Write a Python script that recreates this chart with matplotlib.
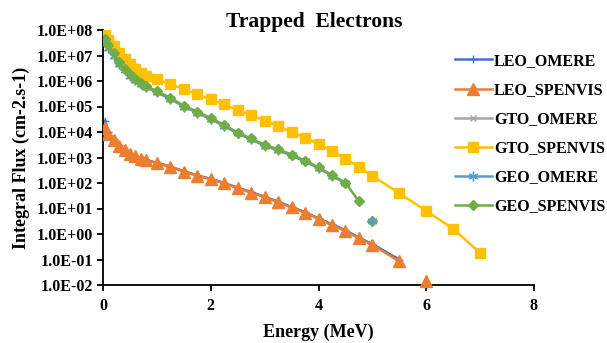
import numpy as np
import matplotlib
matplotlib.use("Agg")
import matplotlib.pyplot as plt
from matplotlib.ticker import FuncFormatter, FixedLocator

# energies (MeV)
energy = [0.04, 0.1, 0.2, 0.3, 0.4, 0.5, 0.6, 0.7, 0.8, 1.0, 1.25, 1.5, 1.75, 2.0,
          2.25, 2.5, 2.75, 3.0, 3.25, 3.5, 3.75, 4.0, 4.25, 4.5, 4.75, 5.0, 5.5,
          6.0, 6.5, 7.0]

leo_omere = [2.8e4, 1.0e4, 5.2e3, 3.1e3, 2.0e3, 1.5e3, 1.15e3, 950, 800, 620, 440, 290,
             200, 145, 100, 66, 44, 29, 18.5, 11.5, 7.2, 4.1, 2.4, 1.4, 0.72, 0.40, 0.10,
             np.nan, np.nan, np.nan]
leo_spenvis = [1.5e4, 8.5e3, 4.8e3, 2.9e3, 1.9e3, 1.4e3, 1.1e3, 900, 780, 600, 420, 280,
               190, 140, 97, 63, 42, 27.5, 17.5, 11, 6.9, 3.9, 2.25, 1.3, 0.68, 0.37, 0.085,
               np.nan, np.nan, np.nan]
leo_spenvis_iso = [np.nan] * 27 + [0.015, np.nan, np.nan]

gto_omere = [3.5e7, 2.0e7, 1.0e7, 4.6e6, 2.6e6, 1.6e6, 1.05e6, 7.5e5, 5.8e5, 3.6e5, 2.0e5,
             1.0e5, 5.8e4, 3.2e4, 1.75e4, 8.8e3, 5.2e3, 2.9e3, 1.95e3, 1.2e3, 700, 390,
             195, 98, np.nan, np.nan, np.nan, np.nan, np.nan, np.nan]
gto_spenvis = [7.5e7, 4.2e7, 2.3e7, 1.3e7, 7.5e6, 4.6e6, 3.0e6, 2.1e6, 1.6e6, 1.15e6, 7.5e5,
               4.8e5, 3.0e5, 1.9e5, 1.2e5, 7.3e4, 4.5e4, 2.8e4, 1.7e4, 1.0e4, 6.0e3, 3.4e3,
               1.8e3, 900, 420, 190, 40, 8, 1.6, 0.18]

geo_omere = [3.5e7, 2.0e7, 1.0e7, 4.6e6, 2.6e6, 1.6e6, 1.05e6, 7.5e5, 5.8e5, 3.6e5, 2.0e5,
             1.0e5, 5.8e4, 3.2e4, 1.75e4, 8.8e3, 5.2e3, 2.9e3, 1.95e3, 1.2e3, 700, 390,
             195, 98, np.nan, 3.3, np.nan, np.nan, np.nan, np.nan]
geo_spenvis = [4.5e7, 2.6e7, 1.2e7, 5.5e6, 3.0e6, 1.8e6, 1.2e6, 8.5e5, 6.5e5, 4.0e5, 2.2e5,
               1.07e5, 6.3e4, 3.5e4, 1.9e4, 9.4e3, 5.6e3, 3.1e3, 2.1e3, 1.3e3, 750, 410,
               205, 103, 19, np.nan, np.nan, np.nan, np.nan, np.nan]
geo_spenvis_iso = [np.nan] * 25 + [3.3, np.nan, np.nan, np.nan, np.nan]

plt.rcParams['font.family'] = ['Liberation Serif', 'DejaVu Serif']
plt.rcParams['font.weight'] = 'bold'

fig = plt.figure(figsize=(6.07, 3.43), dpi=100)
ax = fig.add_axes([103 / 607, 1 - 285 / 343, (534 - 103) / 607, (285 - 30) / 343])

c_leo_o, c_leo_s = '#4472C4', '#ED7D31'
c_gto_o, c_gto_s = '#A5A5A5', '#FFC000'
c_geo_o, c_geo_s = '#5B9BD5', '#70AD47'
lw = 1.8

ax.plot(energy, leo_omere, color=c_leo_o, lw=lw, marker='+', ms=6, mew=1,
        label='LEO_OMERE', zorder=2)
ax.plot(energy, leo_spenvis, color=c_leo_s, lw=lw, marker='^', ms=8, mec=c_leo_s,
        label='LEO_SPENVIS', zorder=3)
ax.plot(energy, leo_spenvis_iso, color=c_leo_s, lw=0, marker='^', ms=8, zorder=3,
        clip_on=False)
ax.plot(energy, gto_omere, color=c_gto_o, lw=lw, marker='x', ms=5, mew=1,
        label='GTO_OMERE', zorder=2)
ax.plot(energy, gto_spenvis, color=c_gto_s, lw=lw, marker='s', ms=7.5,
        label='GTO_SPENVIS', zorder=3)
ax.plot(energy, geo_omere, color=c_geo_o, lw=lw, marker=(6, 2, 0), ms=7, mew=1,
        label='GEO_OMERE', zorder=4)
ax.plot(energy, geo_spenvis, color=c_geo_s, lw=lw, marker='D', ms=5.5,
        label='GEO_SPENVIS', zorder=5)
ax.plot(energy, geo_spenvis_iso, color=c_geo_s, lw=0, marker='D', ms=5.5, zorder=3)

ax.set_yscale('log')
ax.set_ylim(1e-2, 1e8)
ax.set_xlim(0, 8)
ax.xaxis.set_major_locator(FixedLocator([0, 2, 4, 6, 8]))
ax.yaxis.set_major_locator(FixedLocator([10.0 ** k for k in range(-2, 9)]))
ax.yaxis.set_minor_locator(FixedLocator([]))
ax.yaxis.set_major_formatter(FuncFormatter(lambda v, p: f"{v:.1E}"))

for s in ['top', 'right']:
    ax.spines[s].set_visible(False)
for s in ['left', 'bottom']:
    ax.spines[s].set_linewidth(1.3)
ax.tick_params(axis='both', direction='out', length=4, width=1.3, labelsize=11.5, pad=3)
ax.tick_params(axis='x', pad=5)

ax.set_xlabel('Energy (MeV)', fontsize=13, fontweight='bold', labelpad=7)
ax.set_ylabel('Integral Flux (cm-2.s-1)', fontsize=13, fontweight='bold', labelpad=5)
fig.text(0.518, 0.937, 'Trapped  Electrons', ha='center', va='center', fontsize=15.5,
         fontweight='bold')

leg = ax.legend(loc='upper left', bbox_to_anchor=(455 / 607, 1 - 53 / 343),
                bbox_transform=fig.transFigure, frameon=False, fontsize=11.5,
                handlelength=2.3, handletextpad=0.15, labelspacing=0.82,
                borderaxespad=0, borderpad=0)

fig.savefig('out.png', dpi=100)
